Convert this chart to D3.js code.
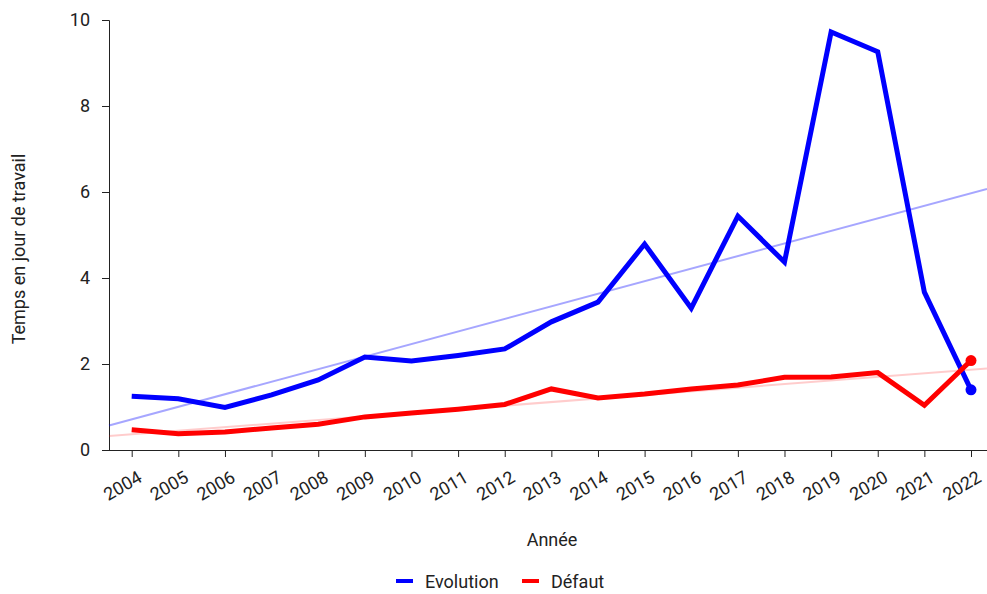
<!DOCTYPE html>
<html><head><meta charset="utf-8">
<script src="https://cdn.jsdelivr.net/npm/d3@7/dist/d3.min.js"></script>
<style>
body{margin:0;background:#fff;}
svg{display:block;font-family:Roboto,sans-serif;}
</style></head>
<body>
<svg id="c" width="987" height="594"></svg>
<script>
const years = ["2004","2005","2006","2007","2008","2009","2010","2011","2012","2013","2014","2015","2016","2017","2018","2019","2020","2021","2022"];
const evolution = [1.25,1.19,0.99,1.28,1.63,2.16,2.07,2.2,2.35,2.98,3.44,4.79,3.3,5.44,4.37,9.72,9.26,3.67,1.40];
const defaut = [0.47,0.38,0.42,0.51,0.6,0.77,0.86,0.95,1.06,1.42,1.21,1.3,1.42,1.51,1.69,1.70,1.80,1.04,2.08];
const yTicks = [0,2,4,6,8,10];
const seriesNames = ["Evolution","Défaut"];
const colors = ["#0000ff","#ff0000"];
const trendColors = ["rgba(0,0,255,0.35)","rgba(255,0,0,0.2)"];

(function(){
const svg = d3.select("#c");
const mLeft = 109, mRight = 987, mTop = 20, mBottom = 450;
const x = d3.scalePoint().domain(years).range([131.7, 971]);
const y = d3.scaleLinear().domain([0,10]).range([mBottom, mTop]);
const textColor = "#222";
const fs = 18;

// y axis
const ya = svg.append("g").attr("transform",`translate(${mLeft},0)`)
  .call(d3.axisLeft(y).tickValues(yTicks).tickSize(7).tickPadding(12).tickSizeOuter(7));
ya.selectAll("text").attr("font-size",fs).attr("fill",textColor).attr("font-family","Roboto");
ya.selectAll("line,path").attr("stroke","#222");

// x axis
const xa = svg.append("g").attr("transform",`translate(0,${mBottom})`)
  .call(d3.axisBottom(x).tickSize(7).tickSizeOuter(0));
xa.select(".domain").attr("d",`M${mLeft},0.5H${mRight}`).attr("stroke","#222");
xa.selectAll("line").attr("stroke","#222");
xa.selectAll("text").attr("font-size",fs).attr("fill",textColor).attr("font-family","Roboto")
  .attr("text-anchor","end").attr("dy",0).attr("y",0)
  .attr("transform","translate(11,31) rotate(-30)");

// trend lines (least squares from data)
[evolution, defaut].forEach((vals,k)=>{
  const n = vals.length;
  const xs = d3.range(n);
  const mx = d3.mean(xs), my = d3.mean(vals);
  const slope = d3.sum(xs,(i)=> (i-mx)*(vals[i]-my)) / d3.sum(xs,i=>(i-mx)*(i-mx));
  const icpt = my - slope*mx;
  const step = x.step();
  const i0 = (mLeft - x(years[0]))/step, i1 = (mRight - x(years[0]))/step;
  svg.append("line")
    .attr("x1",mLeft).attr("x2",mRight)
    .attr("y1",y(icpt+slope*i0)).attr("y2",y(icpt+slope*i1))
    .attr("stroke",trendColors[k]).attr("stroke-width",2);
});

// series lines
const line = d3.line().x((d,i)=>x(years[i])).y(d=>y(d));
[evolution, defaut].forEach((vals,k)=>{
  svg.append("path").datum(vals).attr("d",line)
    .attr("fill","none").attr("stroke",colors[k]).attr("stroke-width",5)
    .attr("stroke-linejoin","miter");
  svg.append("circle").attr("cx",x(years[years.length-1])).attr("cy",y(vals[vals.length-1]))
    .attr("r",5.5).attr("fill",colors[k]);
});

// axis titles
svg.append("text").attr("x",552).attr("y",546).attr("text-anchor","middle")
  .attr("font-size",fs).attr("fill",textColor).text("Année");
svg.append("text").attr("transform","translate(25,249) rotate(-90)").attr("text-anchor","middle")
  .attr("font-size",fs).attr("fill",textColor).text("Temps en jour de travail");

// legend
const legX = [396, 522];
seriesNames.forEach((nm,k)=>{
  svg.append("line").attr("x1",legX[k]).attr("x2",legX[k]+17).attr("y1",581).attr("y2",581)
    .attr("stroke",colors[k]).attr("stroke-width",4);
  svg.append("text").attr("x",legX[k]+29).attr("y",588).attr("font-size",fs)
    .attr("fill",textColor).text(nm);
});
})();
</script>
</body></html>
